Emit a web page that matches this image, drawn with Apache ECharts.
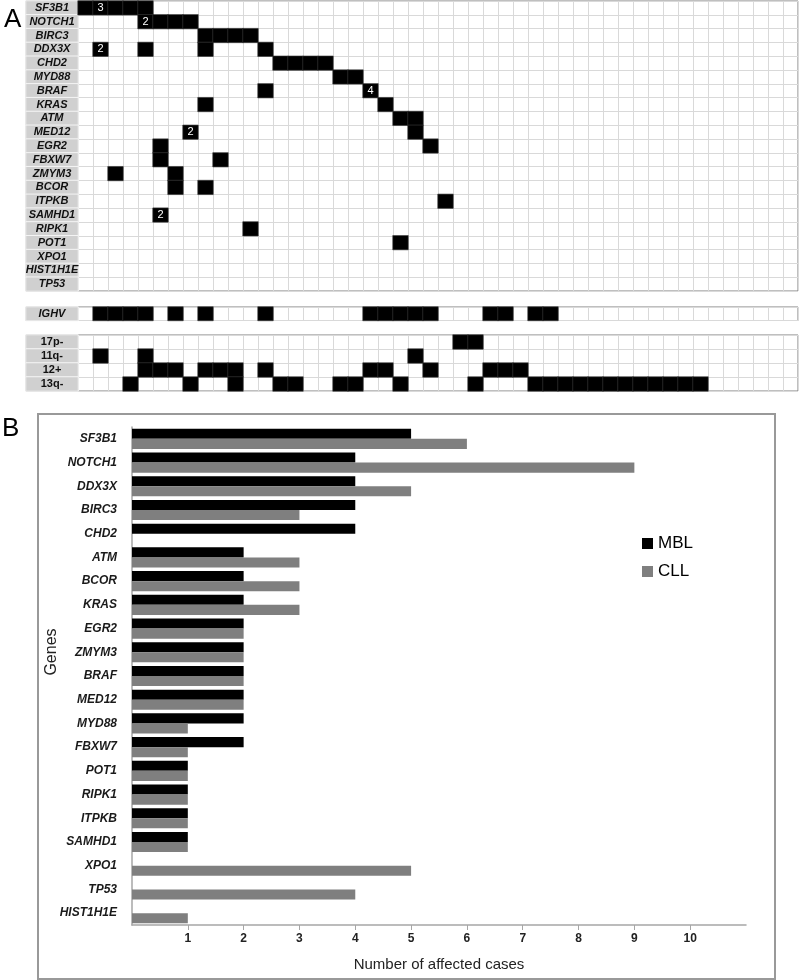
<!DOCTYPE html>
<html><head><meta charset="utf-8">
<script src="https://cdn.jsdelivr.net/npm/echarts@6/dist/echarts.min.js"></script>
<style>html,body{margin:0;padding:0;background:#fff}#c{width:800px;height:980px}</style>
</head><body><div id="c"></div>
<script>
// ---------- Panel A data ----------
const mutGenes = ['SF3B1','NOTCH1','BIRC3','DDX3X','CHD2','MYD88','BRAF','KRAS','ATM','MED12','EGR2','FBXW7','ZMYM3','BCOR','ITPKB','SAMHD1','RIPK1','POT1','XPO1','HIST1H1E','TP53'];
// mutated case columns (0-based) for each gene row
const mutCases = [
  [0,1,2,3,4], [4,5,6,7], [8,9,10,11], [1,4,8,12], [13,14,15,16], [17,18],
  [12,19], [8,20], [21,22], [7,22], [5,23], [5,9], [2,6], [6,8], [24], [5],
  [11], [21], [], [], []
];
// cells carrying a number: [gene, case column, number]
const mutCounts = [['SF3B1',1,3],['NOTCH1',4,2],['DDX3X',1,2],['BRAF',19,4],['MED12',7,2],['SAMHD1',5,2]];
const ighvRows = ['IGHV'];
const ighvCases = [1,2,3,4,6,8,12,19,20,21,22,23,27,28,30,31];
const cytoRows = ['17p-','11q-','12+','13q-'];
const cytoCases = [
  [25,26],
  [1,4,22],
  [4,5,6,8,9,10,12,19,20,23,27,28,29],
  [3,7,10,13,14,17,18,21,26,30,31,32,33,34,35,36,37,38,39,40,41]
];
const nCases = 48;
const cases = Array.from({length:nCases},(_,i)=>String(i+1));

// ---------- Panel B data ----------
const barGenes = ['SF3B1','NOTCH1','DDX3X','BIRC3','CHD2','ATM','BCOR','KRAS','EGR2','ZMYM3','BRAF','MED12','MYD88','FBXW7','POT1','RIPK1','ITPKB','SAMHD1','XPO1','TP53','HIST1H1E'];
const mblValues = [5,4,4,4,4,2,2,2,2,2,2,2,2,2,1,1,1,1,0,0,0];
const cllValues = [6,9,5,3,0,3,3,3,2,2,2,2,1,1,1,1,1,1,5,4,1];
const xTicks = [1,2,3,4,5,6,7,8,9,10];

// ---------- build ----------
const FONT = "'Liberation Sans', Arial, sans-serif";
function cellData(rows, casesList, counts){
  const out = [];
  casesList.forEach((cs,r)=>cs.forEach(c=>{
    const m = counts ? counts.find(k=>k[0]===rows[r] && k[1]===c) : null;
    out.push([c, r, m ? m[2] : 1]);
  }));
  return out;
}
const mainData = cellData(mutGenes, mutCases, mutCounts);
const ighvData = cellData(ighvRows, [ighvCases], null);
const cytoData = cellData(cytoRows, cytoCases, null);

const panelA = [
  {rows: mutGenes, top: 1, height: 290, data: mainData, italic: true},
  {rows: ighvRows, top: 307, height: 13.5, data: ighvData, italic: true},
  {rows: cytoRows, top: 335, height: 56, data: cytoData, italic: false}
];

const grid = [], xAxis = [], yAxis = [], series = [];
panelA.forEach((p, k)=>{
  const gl = grid.length;
  grid.push({left: 26, top: p.top, width: 52, height: p.height, show: true, borderColor: '#7f7f7f', borderWidth: 1});
  grid.push({left: 78, top: p.top, width: 720, height: p.height, show: true, borderColor: '#7f7f7f', borderWidth: 1});
  xAxis.push({type:'category', gridIndex: gl, data: [''], show: false});
  yAxis.push({type:'category', gridIndex: gl, data: p.rows, inverse: true, show: false});
  xAxis.push({type:'category', gridIndex: gl+1, data: cases, axisLine:{show:false}, axisTick:{show:false}, axisLabel:{show:false},
    splitLine:{show:true, interval:0, lineStyle:{color:'#d9d9d9', width:1}}});
  yAxis.push({type:'category', gridIndex: gl+1, data: p.rows, inverse: true, axisLine:{show:false}, axisTick:{show:false}, axisLabel:{show:false},
    splitLine:{show:true, interval:0, lineStyle:{color:'#d9d9d9', width:1}}});
  series.push({
    type:'heatmap', xAxisIndex: gl, yAxisIndex: gl,
    data: p.rows.map((r,i)=>[0,i,1]),
    itemStyle:{color:'#d0d0d0', borderColor:'#f4f4f4', borderWidth:1},
    label:{show:true, formatter: q=>p.rows[q.data[1]], color:'#111', fontSize:11, fontWeight:'bold', fontStyle: p.italic?'italic':'normal', fontFamily: FONT},
    emphasis:{disabled:true}, silent:true
  });
  series.push({
    type:'heatmap', xAxisIndex: gl+1, yAxisIndex: gl+1,
    data: p.data,
    itemStyle:{color:'#000', borderColor:'#3a3a3a', borderWidth:0.6},
    label:{show:true, formatter: q=> q.data[2]>1 ? String(q.data[2]) : '', color:'#fff', fontSize:11, fontFamily: FONT},
    emphasis:{disabled:true}, silent:true
  });
});

// Panel B grid
const gb = grid.length;
grid.push({left: 132, top: 427, width: 614, height: 498});
xAxis.push({type:'value', gridIndex: gb, min: 0, max: 11, interval: 1,
  name:'Number of affected cases', nameLocation:'middle', nameGap: 32,
  nameTextStyle:{fontSize:15, color:'#222', fontFamily: FONT},
  axisLine:{show:true, lineStyle:{color:'#a6a6a6', width:1.5}},
  axisTick:{show:true, length:5, customValues: xTicks, lineStyle:{color:'#a6a6a6'}},
  axisLabel:{margin:8, fontSize:12, fontWeight:'bold', color:'#222', fontFamily: FONT, customValues: xTicks,
    formatter: v => xTicks.includes(v) ? String(v) : ''},
  splitLine:{show:false}});
yAxis.push({type:'category', gridIndex: gb, data: barGenes, inverse: true,
  axisLine:{show:true, lineStyle:{color:'#a6a6a6', width:1.5}},
  axisTick:{show:false},
  axisLabel:{margin:15, fontSize:12, fontWeight:'bold', fontStyle:'italic', color:'#1a1a1a', fontFamily: FONT, interval:0}});
series.push({name:'MBL', type:'bar', xAxisIndex: gb, yAxisIndex: gb, data: mblValues,
  barGap: '0%', barCategoryGap: '15%', itemStyle:{color:'#000'}, silent:true});
series.push({name:'CLL', type:'bar', xAxisIndex: gb, yAxisIndex: gb, data: cllValues,
  barGap: '0%', barCategoryGap: '15%', itemStyle:{color:'#7f7f7f'}, silent:true});

const chart = echarts.init(document.getElementById('c'), null, {renderer:'canvas'});
chart.setOption({
  backgroundColor:'#fff',
  animation:false,
  textStyle:{fontFamily: FONT},
  grid, xAxis, yAxis, series,
  legend:{data:['MBL','CLL'], orient:'vertical', left: 637, top: 530, itemWidth: 11, itemHeight: 11, itemGap: 11,
    icon:'rect', textStyle:{fontSize:17, color:'#000', fontFamily: FONT}, selectedMode:false},
  graphic:[
    {type:'text', left: 4, top: 7, style:{text:'A', fontSize: 26, fill:'#000', fontFamily: FONT}},
    {type:'text', left: 2, top: 416, style:{text:'B', fontSize: 26, fill:'#000', fontFamily: FONT}},
    {type:'rect', shape:{x:38, y:414, width:737, height:565}, style:{fill:'none', stroke:'#999', lineWidth:2}, silent:true},
    {type:'text', x: 52, y: 652, rotation: Math.PI/2, style:{text:'Genes', fontSize:16, fill:'#222', fontFamily: FONT, align:'center', verticalAlign:'middle'}}
  ]
});
</script></body></html>
